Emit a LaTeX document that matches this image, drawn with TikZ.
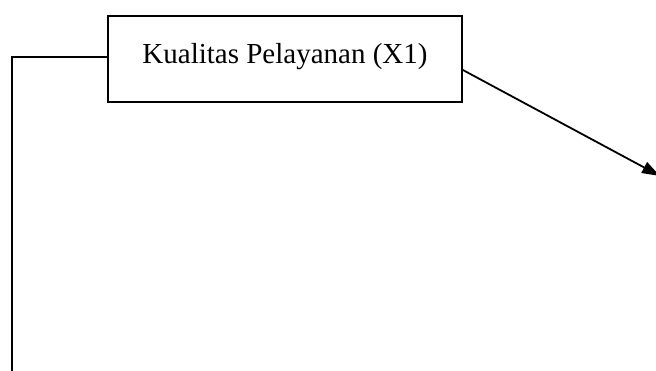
\documentclass[tikz,border=0pt]{standalone}
\usepackage{fontspec}
\setmainfont{Liberation Serif}
\usetikzlibrary{arrows.meta}
\begin{document}
\begin{tikzpicture}[x=1pt,y=-1pt,
  line/.style={draw=black,line width=1.8pt},
  varbox/.style={line, rectangle, minimum width=354pt, minimum height=86pt, inner sep=0pt},
  label/.style={font=\fontsize{29}{32}\selectfont, inner sep=0pt}]
  \useasboundingbox (0,0) rectangle (656,371);
  % Variable box
  \node[varbox] (x1) at (285,59) {};
  \node[label, anchor=base] (t1) at (285,64) {Kualitas Pelayanan (X1)};
  % Connector from the left side down to the lower edge
  \coordinate (lc) at (12,57);
  \coordinate (ld) at (12,371);
  \coordinate (ls) at (x1.west |- lc);
  \draw[line] (ls) -- (lc) -- (ld);
  % Arrow leaving the right side
  \coordinate (rs) at (x1.east |- 0,70);
  \coordinate (rt) at (660,176);
  \draw[line, -{Triangle[length=18pt,width=12pt]}] (rs) -- (rt);
\end{tikzpicture}
\end{document}
